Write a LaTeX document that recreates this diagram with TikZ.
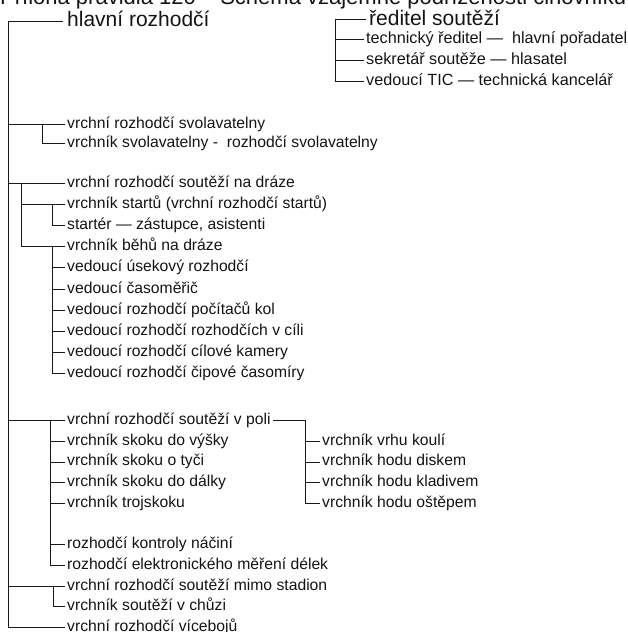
\documentclass[tikz,border=0pt]{standalone}
\usepackage{fontspec}
\setmainfont{Liberation Sans}
\usepackage{tikz}
\usetikzlibrary{calc}
\tikzset{
  polozka/.style={anchor=west, inner xsep=2pt, inner ysep=0pt, text height=12pt, text depth=4pt, font=\fontsize{15.7}{18}\selectfont, text=black!92},
  pravo/.style={polozka, font=\fontsize{16.2}{19}\selectfont},
  hlava/.style={polozka, inner xsep=4pt, text height=16pt, text depth=5pt, font=\fontsize{21}{24}\selectfont},
  titulek/.style={anchor=base west, inner sep=0pt, font=\fontsize{22}{26}\selectfont, text=black!92},
  spoj/.style={draw=black!90, line width=0.8pt},
}
\begin{document}
\begin{tikzpicture}[x=1pt,y=-1pt]
  \useasboundingbox (0,0) rectangle (628,632);
  % title, cut by the top edge
  \node[titulek] (nadpis) at (0,4.5) {Příloha pravidla 120 – Schéma vzájemné podřízenosti činovníků};
  % heads
  \node[hlava] (hlavni) at (63,21) {hlavní rozhodčí};
  \node[hlava,inner xsep=3pt] (reditel) at (366,19.5) {ředitel soutěží};
  \node[pravo] (technik) at (364,39.5) {technický ředitel —\ \ hlavní pořadatel};
  \node[pravo] (sekretar) at (364,60.5) {sekretář soutěže — hlasatel};
  \node[pravo] (tic) at (364,81.5) {vedoucí TIC — technická kancelář};
  % svolavatelna
  \node[polozka] (svol) at (65,124) {vrchní rozhodčí svolavatelny};
  \node[polozka] (svolvrch) at (65,143) {vrchník svolavatelny -\ \ rozhodčí svolavatelny};
  % draha
  \node[polozka] (draha) at (65,183) {vrchní rozhodčí soutěží na dráze};
  \node[polozka] (starty) at (65,204.2) {vrchník startů (vrchní rozhodčí startů)};
  \node[polozka] (starter) at (65,225.4) {startér — zástupce, asistenti};
  \node[polozka] (behy) at (65,246.6) {vrchník běhů na dráze};
  \node[polozka] (usek) at (65,267.8) {vedoucí úsekový rozhodčí};
  \node[polozka] (casomer) at (65,289) {vedoucí časoměřič};
  \node[polozka] (pocitace) at (65,310.2) {vedoucí rozhodčí počítačů kol};
  \node[polozka] (cil) at (65,331.4) {vedoucí rozhodčí rozhodčích v cíli};
  \node[polozka] (kamera) at (65,352.6) {vedoucí rozhodčí cílové kamery};
  \node[polozka] (cipy) at (65,373.8) {vedoucí rozhodčí čipové časomíry};
  % pole
  \node[polozka] (pole) at (65,420.5) {vrchní rozhodčí soutěží v poli};
  \node[polozka] (vyska) at (65,441.2) {vrchník skoku do výšky};
  \node[polozka] (tyc) at (65,461.9) {vrchník skoku o tyči};
  \node[polozka] (dalka) at (65,482.6) {vrchník skoku do dálky};
  \node[polozka] (troj) at (65,503.3) {vrchník trojskoku};
  \node[polozka] (naradi) at (65,544.7) {rozhodčí kontroly náčiní};
  \node[polozka] (elektro) at (65,565.4) {rozhodčí elektronického měření délek};
  \node[polozka] (koule) at (320,441.2) {vrchník vrhu koulí};
  \node[polozka] (disk) at (320,461.9) {vrchník hodu diskem};
  \node[polozka] (kladivo) at (320,482.6) {vrchník hodu kladivem};
  \node[polozka] (ostep) at (320,503.3) {vrchník hodu oštěpem};
  % mimo stadion, viceboj
  \node[polozka] (mimo) at (65,586.1) {vrchní rozhodčí soutěží mimo stadion};
  \node[polozka] (chuze) at (65,606.8) {vrchník soutěží v chůzi};
  \node[polozka] (viceboj) at (65,627.5) {vrchní rozhodčí vícebojů};
  % trunk lines
  \coordinate (kmen) at (8,0);
  \coordinate (reditx) at (335,0);
  \coordinate (svolx) at (42,0);
  \coordinate (drahax) at (21,0);
  \coordinate (startx) at (52,0);
  \coordinate (polex) at (50,0);
  \coordinate (hodyx) at (305,0);
  \coordinate (mimox) at (53,0);
  \draw[spoj] (hlavni.west) -| (kmen |- viceboj.west) -- (viceboj.west);
  \draw[spoj] (reditel.west) -| (reditx |- tic.west) -- (tic.west);
  \draw[spoj] (reditx |- technik.west) -- (technik.west);
  \draw[spoj] (reditx |- sekretar.west) -- (sekretar.west);
  % svolavatelna
  \draw[spoj] (kmen |- svol.west) -- (svol.west);
  \draw[spoj] (svolx |- svol.west) |- (svolvrch.west);
  % draha
  \draw[spoj] (kmen |- draha.west) -- (draha.west);
  \draw[spoj] (drahax |- draha.west) |- (behy.west);
  \draw[spoj] (drahax |- starty.west) -- (starty.west);
  \draw[spoj] (startx |- starty.west) |- (starter.west);
  \draw[spoj] (startx |- behy.west) |- (cipy.west);
  \draw[spoj] (startx |- usek.west) -- (usek.west);
  \draw[spoj] (startx |- casomer.west) -- (casomer.west);
  \draw[spoj] (startx |- pocitace.west) -- (pocitace.west);
  \draw[spoj] (startx |- cil.west) -- (cil.west);
  \draw[spoj] (startx |- kamera.west) -- (kamera.west);
  % pole
  \draw[spoj] (kmen |- pole.west) -- (pole.west);
  \draw[spoj] (polex |- pole.west) |- (elektro.west);
  \draw[spoj] (polex |- vyska.west) -- (vyska.west);
  \draw[spoj] (polex |- tyc.west) -- (tyc.west);
  \draw[spoj] (polex |- dalka.west) -- (dalka.west);
  \draw[spoj] (polex |- troj.west) -- (troj.west);
  \draw[spoj] (polex |- naradi.west) -- (naradi.west);
  \draw[spoj] (pole.east) -- (hodyx |- pole.east) |- (ostep.west);
  \draw[spoj] (hodyx |- koule.west) -- (koule.west);
  \draw[spoj] (hodyx |- disk.west) -- (disk.west);
  \draw[spoj] (hodyx |- kladivo.west) -- (kladivo.west);
  % mimo stadion
  \draw[spoj] (kmen |- mimo.west) -- (mimo.west);
  \draw[spoj] (mimox |- mimo.west) |- (chuze.west);
\end{tikzpicture}
\end{document}
